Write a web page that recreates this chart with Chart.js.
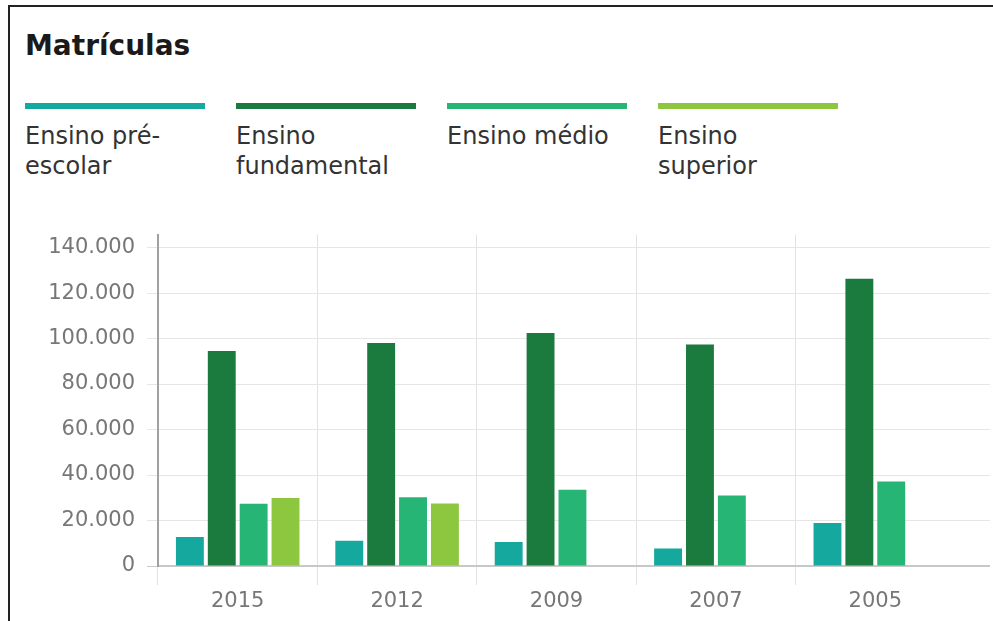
<!DOCTYPE html>
<html>
<head>
<meta charset="utf-8">
<script src="https://cdn.jsdelivr.net/npm/chart.js@4"></script>
<style>
  body { margin: 0; width: 993px; height: 621px; overflow: hidden; background: #fff; font-family: "DejaVu Sans", sans-serif; }
  .frame { position: absolute; left: 8px; top: 5px; width: 1100px; height: 700px; border-top: 2px solid #222; border-left: 2px solid #222; }
  .title { position: absolute; left: 25px; top: 29px; font-size: 28px; font-weight: bold; color: #1a1a1a; }
  .item { position: absolute; top: 103px; width: 180px; }
  .item .bar { height: 6px; }
  .item .txt { margin-top: 12px; font-size: 24px; line-height: 30px; color: #333; white-space: pre-line; }
  canvas { position: absolute; left: 0; top: 210px; }
</style>
</head>
<body>
<div class="frame"></div>
<div class="title">Matrículas</div>
<div id="legend"></div>
<canvas id="myChart" width="993" height="411"></canvas>
<script>
const years = ["2015", "2012", "2009", "2007", "2005"];
const seriesNames = ["Ensino pré-escolar", "Ensino fundamental", "Ensino médio", "Ensino superior"];
const legendText = ["Ensino pré-\nescolar", "Ensino\nfundamental", "Ensino médio", "Ensino\nsuperior"];
const colors = ["#14a89e", "#1b7a3d", "#26b574", "#8dc63f"];

const preEscolar = [12800, 11100, 10500, 7700, 18900];
const fundamental = [94500, 98000, 102400, 97400, 126300];
const medio = [27400, 30200, 33500, 31000, 37200];
const superior = [29900, 27500, null, null, null];

const yTicks = [0, 20000, 40000, 60000, 80000, 100000, 120000, 140000];

// legenda em html (linha colorida + texto quebrado)
const legend = document.getElementById("legend");
seriesNames.forEach((name, i) => {
  const el = document.createElement("div");
  el.className = "item";
  el.style.left = 25 + i * 211 + "px";
  el.innerHTML = '<div class="bar" style="background:' + colors[i] + '"></div><div class="txt"></div>';
  el.querySelector(".txt").textContent = legendText[i];
  legend.appendChild(el);
});

const fmt = (v) => String(v).replace(/\B(?=(\d{3})+(?!\d))/g, ".");

// horizontal grid lines run a bit past the last category
const extendGrid = {
  id: "extendGrid",
  beforeDatasetsDraw(chart) {
    const { ctx, chartArea, scales } = chart;
    ctx.save();
    scales.y.ticks.forEach((t) => {
      const w = t.value === 0 ? 2 : 1;
      const p = scales.y.getPixelForValue(t.value);
      const y = Math.round(p - w / 2) + w / 2; // same snapping as chart.js
      ctx.strokeStyle = t.value === 0 ? "#c8c8c8" : "#e6e6e6";
      ctx.lineWidth = w;
      ctx.beginPath();
      ctx.moveTo(chartArea.right - 1, y);
      ctx.lineTo(990, y);
      ctx.stroke();
    });
    ctx.restore();
  },
};

const ctx = document.getElementById("myChart").getContext("2d");
new Chart(ctx, {
  type: "bar",
  data: {
    labels: years,
    datasets: [preEscolar, fundamental, medio, superior].map((d, i) => ({
      label: seriesNames[i],
      data: d,
      backgroundColor: colors[i],
      categoryPercentage: 0.8,
      barPercentage: 0.875,
    })),
  },
  options: {
    responsive: false,
    animation: false,
    devicePixelRatio: 1,
    layout: { padding: { top: 0, right: 38, left: 0, bottom: 0 } },
    plugins: {
      legend: { display: false },
      tooltip: { enabled: false },
    },
    scales: {
      x: {
        afterFit: (s) => { s.height = 55; },
        grid: {
          offset: true,
          tickLength: 19,
          // no line at the far right edge
          color: (c) => (c.type === "tick" ? "#e2e2e2" : "rgba(0,0,0,0)"),
        },
        border: { display: true, color: "#c8c8c8", width: 2 },
        ticks: {
          color: "#777",
          font: { family: "DejaVu Sans", size: 21 },
          padding: 4,
        },
      },
      y: {
        min: 0,
        max: 145700,
        afterFit: (s) => { s.width = 158; },
        afterBuildTicks: (s) => { s.ticks = yTicks.map((v) => ({ value: v })); },
        grid: {
          tickLength: 11,
          color: (c) => (c.tick && c.tick.value === 0 ? "#c8c8c8" : "#e6e6e6"),
        },
        border: { display: true, color: "#a0a0a0", width: 2 },
        ticks: {
          color: "#777",
          font: { family: "DejaVu Sans", size: 21 },
          padding: 12,
          callback: (v) => fmt(v),
        },
      },
    },
  },
  plugins: [extendGrid],
});
</script>
</body>
</html>
